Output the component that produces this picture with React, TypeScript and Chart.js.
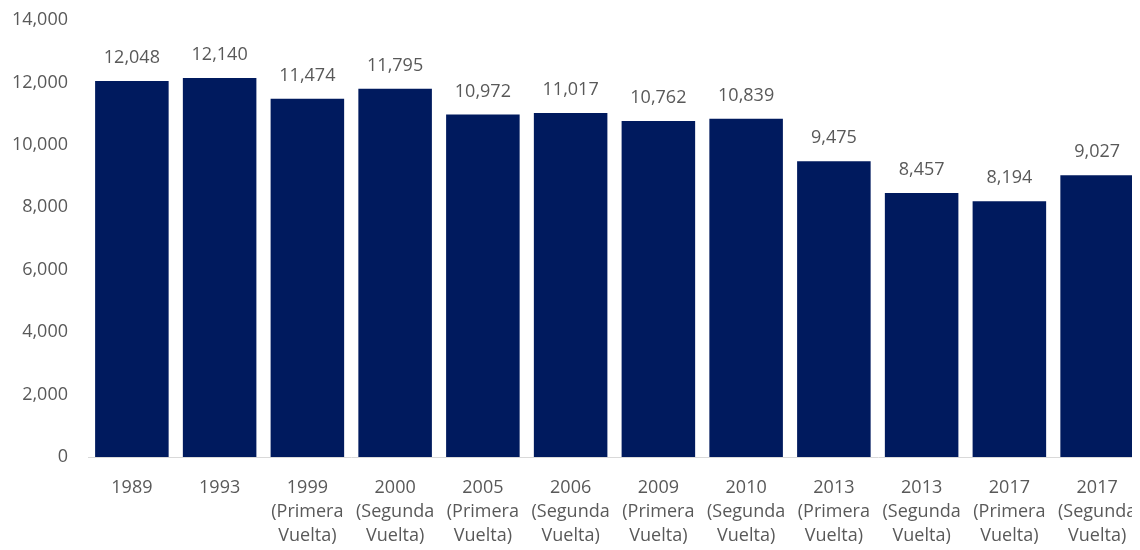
import React, { useEffect, useRef } from "react";
import { Chart, registerables } from "chart.js";

Chart.register(...registerables);

const categories: string[][] = [
  ["1989"],
  ["1993"],
  ["1999", "(Primera", "Vuelta)"],
  ["2000", "(Segunda", "Vuelta)"],
  ["2005", "(Primera", "Vuelta)"],
  ["2006", "(Segunda", "Vuelta)"],
  ["2009", "(Primera", "Vuelta)"],
  ["2010", "(Segunda", "Vuelta)"],
  ["2013", "(Primera", "Vuelta)"],
  ["2013", "(Segunda", "Vuelta)"],
  ["2017", "(Primera", "Vuelta)"],
  ["2017", "(Segunda", "Vuelta)"],
];
const values: number[] = [12048, 12140, 11474, 11795, 10972, 11017, 10762, 10839, 9475, 8457, 8194, 9027];
const yMax = 14000;
const yStep = 2000;

const FONT = "'Open Sans', 'Noto Sans', sans-serif";
const TEXT = "#595959";
const FS = 18;

const labelPlugin = {
  id: "barLabels",
  afterDatasetsDraw(chart: any) {
    const ctx = chart.ctx;
    const meta = chart.getDatasetMeta(0);
    ctx.save();
    ctx.font = `${FS}px ${FONT}`;
    ctx.fillStyle = TEXT;
    ctx.textAlign = "center";
    ctx.textBaseline = "middle";
    meta.data.forEach((bar: any, i: number) => {
      ctx.fillText(values[i].toLocaleString("en-US"), bar.x, bar.y - 23);
    });
    ctx.restore();
  },
};

export default function App() {
  const ref = useRef<HTMLCanvasElement>(null);
  useEffect(() => {
    if (!ref.current) return;
    const chart = new Chart(ref.current, {
      type: "bar",
      data: {
        labels: categories,
        datasets: [
          {
            data: values,
            backgroundColor: "#001a5e",
            categoryPercentage: 1,
            barPercentage: 0.838,
          },
        ],
      },
      options: {
        animation: false,
        responsive: true,
        maintainAspectRatio: false,
        layout: { padding: 0 },
        plugins: { legend: { display: false }, tooltip: { enabled: false } },
        scales: {
          x: {
            afterFit(scale: any) {
              scale.height = 93;
              scale.paddingLeft = 0;
              scale.paddingRight = 0;
            },
            grid: { display: false, drawTicks: false },
            border: { display: true, color: "#d9d9d9", width: 1 },
            ticks: {
              color: TEXT,
              font: { family: FONT, size: FS, lineHeight: 24 / FS },
              padding: 19,
              maxRotation: 0,
              autoSkip: false,
            },
          },
          y: {
            min: 0,
            max: yMax,
            afterFit(scale: any) {
              scale.width = 80;
              scale.paddingTop = 12;
              scale.paddingBottom = 0;
            },
            grid: { display: false, drawTicks: false },
            border: { display: false },
            ticks: {
              stepSize: yStep,
              color: TEXT,
              padding: 20,
              font: { family: FONT, size: FS },
              callback: (v: any) => Number(v).toLocaleString("en-US"),
            },
          },
        },
      },
      plugins: [labelPlugin],
    });
    return () => chart.destroy();
  }, []);
  return (
    <div style={{ width: 1132, height: 542, overflow: "hidden" }}>
      <div style={{ position: "relative", width: 1133, height: 542 }}>
        <canvas ref={ref} />
      </div>
    </div>
  );
}
